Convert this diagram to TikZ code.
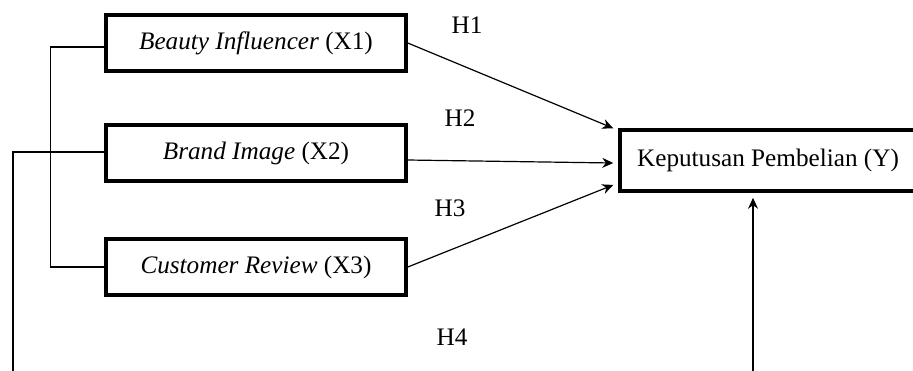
\documentclass[tikz,border=0pt]{standalone}
\usepackage{fontspec}
\setmainfont{Liberation Serif}
\usetikzlibrary{arrows.meta, positioning}

\begin{document}
\begin{tikzpicture}[x=0.5pt, y=-0.5pt, >={Stealth[length=5.5pt,width=5pt]},
  every node/.style={font=\fontsize{12.6}{15}\selectfont},
  varbox/.style={draw, line width=1.75pt, minimum width=150pt, minimum height=28pt, inner sep=2pt},
  link/.style={line width=0.6pt}]
\useasboundingbox (0,0) rectangle (913,370);
\node[varbox] (bi) at (256,43) {\textit{Beauty Influencer} (X1)};
\node[varbox, below=25.25pt of bi] (img) {\textit{Brand Image} (X2)};
\node[varbox, below=27.25pt of img] (rev) {\textit{Customer Review} (X3)};
\node[varbox, minimum width=148pt, minimum height=30.5pt] (kp) at (768,160.5) {Keputusan Pembelian (Y)};
\node (h1) at (467,25) {H1};
\node (h2) at (460,118) {H2};
\node (h3) at (450,208) {H3};
\node (h4) at (452,337) {H4};
\coordinate (bot2) at (13,372);
\coordinate (bot4) at (753,372);
\draw[link] ([yshift=-2pt]bi.west) -- ++(-27pt,0) |- (rev.west);
\draw[link] ([yshift=0.5pt]img.west) -| (bot2);
\draw[link, ->] (bi.east) -- ([xshift=-2.5pt]kp.north west);
\draw[link, ->] ([yshift=-3.5pt]img.east) -- ([xshift=-2.5pt, yshift=-1.25pt]kp.west);
\draw[link, ->] (rev.east) -- ([xshift=-2.5pt, yshift=3.9pt]kp.south west);
\draw[link, ->] (bot4) -- ([yshift=-2.5pt]kp.south -| bot4);
\end{tikzpicture}
\end{document}
